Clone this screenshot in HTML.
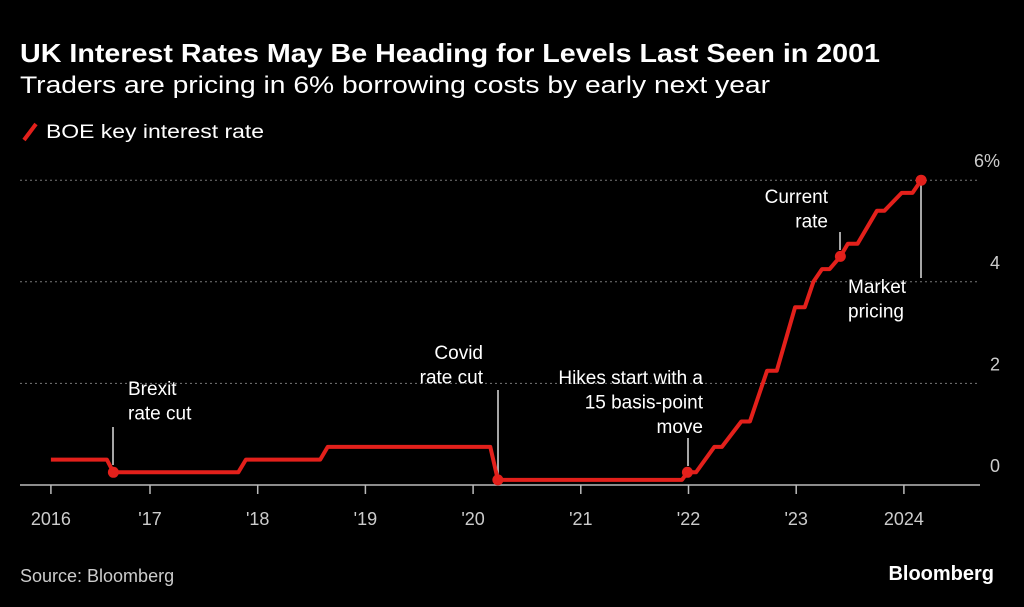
<!DOCTYPE html>
<html><head><meta charset="utf-8"><style>
html,body{margin:0;padding:0;background:#000;}
svg{display:block;font-family:"Liberation Sans",sans-serif;}
</style></head><body>
<svg id="chart" width="1024" height="607" viewBox="0 0 1024 607">
<rect width="1024" height="607" fill="#000"/>
<text x="20" y="62" fill="#fff" font-size="26" font-weight="bold" textLength="860" lengthAdjust="spacingAndGlyphs">UK Interest Rates May Be Heading for Levels Last Seen in 2001</text>
<text x="20" y="93" fill="#fff" font-size="24" textLength="750" lengthAdjust="spacingAndGlyphs">Traders are pricing in 6% borrowing costs by early next year</text>
<g>
<line x1="24" y1="140" x2="36" y2="124" stroke="#e3201b" stroke-width="4"/>
<text x="46" y="138" fill="#fff" font-size="19" textLength="218" lengthAdjust="spacingAndGlyphs">BOE key interest rate</text>
</g>
<g id="grid"></g>
<g id="xaxis"></g>
<g id="annotations" font-size="19" fill="#fff"></g>
<g id="series"></g>
<text x="20" y="582" fill="#ccc" font-size="18">Source: Bloomberg</text>
<text x="994" y="580" fill="#fff" font-size="20" font-weight="bold" text-anchor="end">Bloomberg</text>
</svg>
<script>
const xTickYears = [2016.08, 2017, 2018, 2019, 2020, 2021, 2022, 2023, 2024];
const xTickLabels = ["2016", "'17", "'18", "'19", "'20", "'21", "'22", "'23", "2024"];
const yTicks = [0, 2, 4, 6];
const yTickLabels = ["0", "2", "4", "6%"];
const rateDates = [2016.08, 2016.60, 2016.66, 2017.82, 2017.89, 2018.58, 2018.65, 2020.16, 2020.23, 2021.94, 2021.99, 2022.07, 2022.24, 2022.31, 2022.49, 2022.57, 2022.73, 2022.82, 2022.99, 2023.08, 2023.16, 2023.24, 2023.31, 2023.41, 2023.48, 2023.57, 2023.75, 2023.82, 2023.98, 2024.08, 2024.16];
const rateValues = [0.5, 0.5, 0.25, 0.25, 0.5, 0.5, 0.75, 0.75, 0.1, 0.1, 0.25, 0.25, 0.75, 0.75, 1.25, 1.25, 2.25, 2.25, 3.5, 3.5, 4.0, 4.25, 4.25, 4.5, 4.75, 4.75, 5.4, 5.4, 5.75, 5.75, 6.0];
const markerDates = [2016.66, 2020.23, 2021.99, 2023.41, 2024.16];
const markerValues = [0.25, 0.1, 0.25, 4.5, 6.0];

const NS = "http://www.w3.org/2000/svg";
const xs = y => 150 + (y - 2017) * 107.7;
const ys = v => 485 - v * 50.8;
function mk(tag, attrs, parent) {
  const e = document.createElementNS(NS, tag);
  for (const k in attrs) e.setAttribute(k, attrs[k]);
  parent.appendChild(e);
  return e;
}
const grid = document.getElementById('grid');
yTicks.forEach((v, i) => {
  if (v > 0) {
    const l = mk('line', {x1: 20, x2: 978, y1: ys(v), y2: ys(v), stroke: '#777', 'stroke-width': 1, 'stroke-dasharray': '2,3'}, grid);
    
    
  }
  const t = mk('text', {x: 1000, y: ys(v) - 13, fill: '#ccc', 'font-size': 18, 'text-anchor': 'end'}, grid);
  t.textContent = yTickLabels[i];
  
  
});
const xa = document.getElementById('xaxis');
const axl = mk('line', {x1: 20, x2: 980, y1: 485, y2: 485, stroke: '#bbb', 'stroke-width': 1.5}, xa);


xTickYears.forEach((yr, i) => {
  const tk = mk('line', {x1: xs(yr), x2: xs(yr), y1: 485, y2: 494, stroke: '#bbb', 'stroke-width': 1.5}, xa);
  
  
  const t = mk('text', {x: xs(yr), y: 525, fill: '#ccc', 'font-size': 18, 'text-anchor': 'middle'}, xa);
  t.textContent = xTickLabels[i];
  
  
});
const an = document.getElementById('annotations');
function note(lines, x, y0, anchor, lx, ly1, ly2, name) {
  const g = mk('g', {}, an);
  
  
  lines.forEach((s, i) => {
    const t = mk('text', {x: x, y: y0 + i * 24.5, 'text-anchor': anchor, fill: '#fff'}, g);
    t.textContent = s;
  });
  mk('line', {x1: lx, x2: lx, y1: ly1, y2: ly2, stroke: '#ddd', 'stroke-width': 1.5}, g);
}
note(["Brexit", "rate cut"], 128, 395, 'start', 113, 427, 465, 'brexit-annotation');
note(["Covid", "rate cut"], 483, 359, 'end', 498, 390, 475, 'covid-annotation');
note(["Hikes start with a", "15 basis-point", "move"], 703, 384, 'end', 688, 438, 466, 'hikes-annotation');
note(["Current", "rate"], 828, 203, 'end', 840, 232, 250, 'current-rate-annotation');
note(["Market", "pricing"], 848, 293, 'start', 921, 185, 278, 'market-pricing-annotation');
const se = document.getElementById('series');
const pts = rateDates.map((d, i) => xs(d).toFixed(1) + ',' + ys(rateValues[i]).toFixed(1)).join(' ');
const pl = mk('polyline', {points: pts, fill: 'none', stroke: '#e3201b', 'stroke-width': 4, 'stroke-linejoin': 'round'}, se);


markerDates.forEach((d, i) => {
  const c = mk('circle', {cx: xs(d), cy: ys(markerValues[i]), r: 5.5, fill: '#e3201b'}, se);
  
  
});
</script>
</body></html>
